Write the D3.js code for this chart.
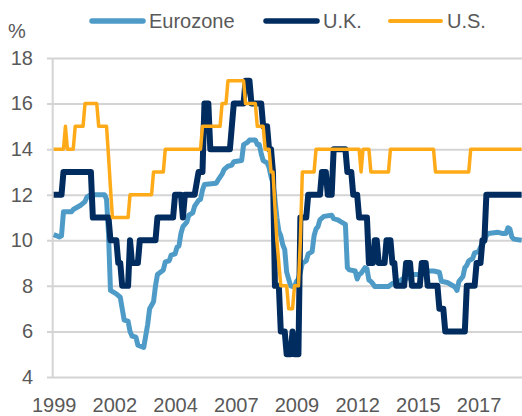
<!DOCTYPE html>
<html>
<head>
<meta charset="utf-8">
<script src="https://cdn.jsdelivr.net/npm/d3@7"></script>
<style>
  body { margin: 0; background: #fff; }
  svg text { font-family: "Liberation Sans", Arial, sans-serif; fill: #595959; }
</style>
</head>
<body>
<div id="container"></div>
<script>
// x values are months counted from Jul 1999 (= month 0), monthly series
let xTickMonths = [0, 31, 62, 93, 124, 155, 186, 217];
let xTickLabels = ["1999", "2002", "2004", "2007", "2009", "2012", "2015", "2017"];
let yTicks = [4, 6, 8, 10, 12, 14, 16, 18];
let seriesNames = ["Eurozone", "U.K.", "U.S."];

let eurozone = [
  [0,10.25],[3,10.15],[4,10.2],[5,11.25],[9,11.25],[10,11.35],[12,11.45],[14,11.55],[16,11.7],[17,11.9],
  [19,12.0],[26,12.0],[27,11.8],[28,10.3],[29,7.8],[32,7.65],[34,7.5],[35,7.0],[36,6.5],[38,6.45],
  [39,6.0],[40,5.8],[42,5.75],[43,5.4],[46,5.3],[47,5.8],[48,6.3],[49,7.0],[51,7.3],[52,8.0],
  [53,8.5],[56,8.7],[57,9.05],[59,9.1],[60,9.35],[62,9.4],[63,9.7],[64,9.75],[65,10.3],[66,10.6],
  [68,10.8],[69,11.1],[71,11.2],[72,11.5],[74,11.75],[75,11.8],[76,12.2],[77,12.45],[83,12.5],[84,12.65],
  [86,12.9],[87,13.1],[89,13.25],[91,13.3],[92,13.45],[96,13.5],[97,14.2],[99,14.3],[100,14.4],[103,14.4],
  [104,14.2],[105,14.2],[106,13.8],[107,13.5],[109,13.4],[110,13.2],[111,12.8],[112,12.5],[113,11.8],[114,11.0],
  [115,10.4],[116,10.2],[117,9.8],[118,9.6],[119,8.6],[120,8.3],[121,8.0],[123,7.95],[124,8.2],[125,8.3],
  [126,8.6],[127,9.0],[129,9.1],[130,9.4],[132,9.5],[133,10.2],[134,10.5],[135,10.6],[136,10.9],[138,11.05],
  [142,11.1],[143,10.95],[145,10.9],[147,10.8],[149,10.7],[150,8.8],[151,8.7],[154,8.65],[155,8.3],[156,8.5],
  [157,8.55],[159,8.8],[160,8.75],[161,8.25],[162,8.2],[163,8.1],[164,7.97],[171,7.97],[173,8.1],[176,8.15],
  [178,8.3],[182,8.35],[184,8.5],[188,8.5],[190,8.65],[194,8.65],[197,8.6],[198,8.2],[201,8.15],[203,8.05],
  [205,7.95],[206,7.8],[207,8.2],[209,8.4],[210,8.8],[211,8.9],[212,9.1],[214,9.2],[215,9.45],[217,9.5],
  [218,9.7],[219,9.8],[220,10.0],[221,10.2],[222,10.3],[227,10.35],[229,10.3],[231,10.3],[232,10.55],[233,10.5],
  [234,10.15],[235,10.05],[239,10.0]
];

let uk = [
  [0,12],[4,12],[5,13],[19,13],[20,11],[28,11],[29,10],[32,10],[33,9],[34,9],
  [35,8],[38,8],[39,10],[40,9],[43,9],[44,10],[52,10],[53,11],[61,11],[62,12],
  [65,12],[66,11],[67,12],[72,12],[73,12.5],[74,13],[76,13],[77,16],[79,16],[80,14],
  [90,14],[91,15],[92,16],[97,16],[98,17],[100,17],[101,16],[106,16],[107,15],[109,15],
  [110,14],[111,14],[112,13],[113,8],[115,8],[116,6],[118,6],[119,5],[121,5],[122,6],
  [123,5],[125,5],[126,11],[129,11],[130,12],[136,12],[137,13],[139,13],[140,12],[142,12],
  [143,14],[149,14],[150,13],[152,13],[153,12],[155,12],[156,11],[160,11],[161,9],[163,9],
  [164,10],[165,10],[166,9],[169,9],[170,10],[172,10],[173,9],[174,9],[175,8],[179,8],
  [180,9],[182,9],[183,8],[187,8],[188,9],[190,9],[191,8],[196,8],[197,7],[199,7],
  [200,6],[210,6],[211,8],[215,8],[216,9],[218,9],[219,10],[220,10],[221,12],[239,12]
];

let us = [
  [0,14],[5,14],[6,15],[7,14],[10,14],[11,15],[15,15],[16,16],[22,16],[23,15],
  [27,15],[28,13.7],[29,12.3],[30,11],[38,11],[39,12],[50,12],[51,13],[56,13],[57,14],
  [75,14],[76,15],[85,15],[86,16],[88,16],[89,17],[97,17],[98,16],[103,16],[104,15],
  [107,15],[108,14],[110,14],[111,13],[112,13],[113,11.5],[114,10],[115,9],[116,8],[119,8],
  [120,7],[122,7],[123,8],[125,8],[126,10],[127,13],[133,13],[134,14],[156,14],[157,13],
  [158,14],[161,14],[162,13],[171,13],[172,14],[194,14],[195,13],[212,13],[213,14],[239,14]
];

let colors = ["#4e9bc7", "#002c5f", "#ffab19"];
let widths = [5, 6, 3.5];

let W = 522, H = 416;
let plot = {left: 52.7, right: 522.6, top: 58, bottom: 377};

let svg = d3.select("#container").append("svg")
    .attr("width", W)
    .attr("height", H);

let x = d3.scaleLinear().domain([-0.5, 239.5]).range([plot.left, plot.right]);
let y = d3.scaleLinear().domain([4, 18]).range([plot.bottom, plot.top]);

// gridlines + y labels: ticks drawn from the right edge back across the plot
let yAxis = svg.append("g")
    .attr("transform", "translate(" + W + ",0)")
    .call(d3.axisLeft(y).tickValues(yTicks).tickSize(W - 47).tickPadding(14));
yAxis.select(".domain").remove();
yAxis.selectAll("line").attr("stroke", "#d4d4d4").attr("stroke-width", 2);
yAxis.selectAll("text").style("font-size", "20px");

// vertical axis line
svg.append("line")
    .attr("x1", x(-0.5)).attr("x2", x(-0.5))
    .attr("y1", y(18)).attr("y2", y(4))
    .attr("stroke", "#d4d4d4").attr("stroke-width", 2);

let xAxis = svg.append("g")
    .attr("transform", "translate(0," + plot.bottom + ")")
    .call(d3.axisBottom(x).tickValues(xTickMonths)
      .tickFormat(function(d, i) { return xTickLabels[i]; })
      .tickSize(0).tickPadding(20.5));
xAxis.select(".domain").remove();
xAxis.selectAll("text").style("font-size", "20px");

svg.append("text")
    .attr("x", 8).attr("y", 38)
    .style("font-size", "20px")
    .text("%");

let line = d3.line()
    .x(function(d) { return x(d[0]); })
    .y(function(d) { return y(d[1]); });

[eurozone, uk, us].forEach(function(s, k) {
  svg.append("path")
      .datum(s)
      .attr("fill", "none")
      .attr("stroke", colors[k])
      .attr("stroke-width", widths[k])
      .attr("stroke-linejoin", "round")
      .attr("d", line);
});

// legend
let legendX = [92, 266, 390];
let legend = svg.selectAll(".legend")
    .data(seriesNames)
    .enter().append("g")
      .attr("class", "legend")
      .attr("transform", function(d, i) { return "translate(" + legendX[i] + ",21)"; });

legend.append("line")
    .attr("x1", 0).attr("x2", 51)
    .attr("stroke", function(d, i) { return colors[i]; })
    .attr("stroke-width", function(d, i) { return widths[i] === 3.5 ? 4 : 5.5; })
    .attr("stroke-linecap", "round");

legend.append("text")
    .attr("x", 57)
    .attr("dy", "0.35em")
    .style("font-size", "20px")
    .text(function(d) { return d; });
</script>
</body>
</html>
